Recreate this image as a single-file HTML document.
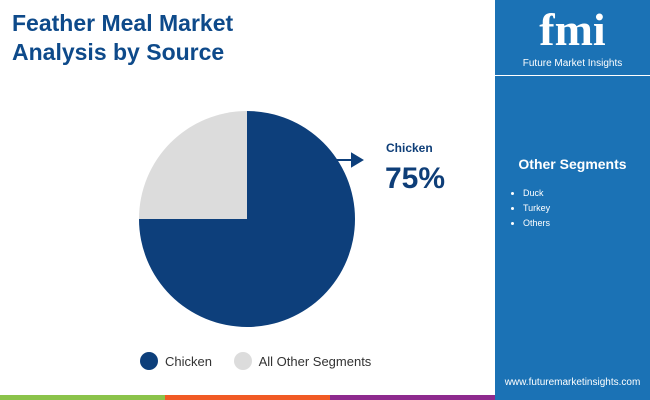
<!DOCTYPE html>
<html><head><meta charset="utf-8"><style>
body{margin:0;width:650px;height:400px;overflow:hidden;background:#fff;font-family:"Liberation Sans",sans-serif;position:relative}
.abs{position:absolute}
</style></head><body>
<div class="abs" style="left:12px;top:9px;font-size:23px;font-weight:bold;color:#0e4a8a;line-height:29px">Feather Meal Market<br>Analysis by Source</div>
<div class="abs" style="left:495px;top:0;width:155px;height:400px;background:#1b72b5">
  <div class="abs" style="left:0;width:155px;top:4px;text-align:center;color:#fff;font-size:46px;font-weight:bold;font-family:'Liberation Serif',serif;line-height:52px">fmi</div>
  <div class="abs" style="left:0;width:155px;top:58px;text-align:center;color:#fff;font-size:10px">Future Market Insights</div>
  <div class="abs" style="left:0;top:75px;width:155px;height:1px;background:#fff"></div>
  <div class="abs" style="left:0;width:155px;top:156px;text-align:center;color:#fff;font-size:14px;font-weight:bold">Other Segments</div>
  <ul class="abs" style="left:0;top:186px;margin:0;padding-left:28px;color:#fff;font-size:9px;line-height:15px">
    <li>Duck</li>
    <li>Turkey</li>
    <li>Others</li>
  </ul>
  <div class="abs" style="left:0;width:155px;top:377px;text-align:center;color:#fff;font-size:10px">www.futuremarketinsights.com</div>
</div>
<svg class="abs" style="left:0;top:0" width="495" height="400" id="pie"></svg>
<div class="abs" style="left:386px;top:141px;font-size:12px;font-weight:bold;color:#0e3e78">Chicken</div>
<div class="abs" style="left:385px;top:162px;font-size:30px;font-weight:bold;color:#0e3e78">75%</div>
<div class="abs" style="left:140px;top:352px;font-size:13px;color:#333">
  <span style="display:inline-flex;align-items:center"><span style="width:18px;height:18px;border-radius:50%;background:#0d3f7b;display:inline-block;margin-right:7px"></span>Chicken</span>
  <span style="display:inline-flex;align-items:center;margin-left:18px"><span style="width:18px;height:18px;border-radius:50%;background:#dcdcdc;display:inline-block;margin-right:7px"></span>All Other Segments</span>
</div>
<div class="abs" style="left:0;top:395px;width:165px;height:5px;background:#8bc34a"></div>
<div class="abs" style="left:165px;top:395px;width:165px;height:5px;background:#f15a24"></div>
<div class="abs" style="left:330px;top:395px;width:165px;height:5px;background:#8e2a8e"></div>
<script>
const categories=["Chicken","All Other Segments"];
const values=[75,25];
const colors=["#0d3f7b","#dcdcdc"];
const svg=document.getElementById('pie');
const cx=247,cy=219,r=108;
const total=values.reduce((a,b)=>a+b,0);
let a0=0;
values.forEach((v,i)=>{
  const a1=a0+v/total*2*Math.PI;
  const x0=cx+r*Math.sin(a0),y0=cy-r*Math.cos(a0),x1=cx+r*Math.sin(a1),y1=cy-r*Math.cos(a1);
  const p=document.createElementNS('http://www.w3.org/2000/svg','path');
  p.setAttribute('d',`M${cx},${cy}L${x0},${y0}A${r},${r} 0 ${a1-a0>Math.PI?1:0} 1 ${x1},${y1}Z`);
  p.setAttribute('fill',colors[i]);
  
  
  svg.appendChild(p);
  a0=a1;
});
const ar=document.createElementNS('http://www.w3.org/2000/svg','path');
ar.setAttribute('d','M336,160L356,160M352,154L362,160L352,166Z');
ar.setAttribute('stroke','#0d3f7b');ar.setAttribute('stroke-width','2');ar.setAttribute('fill','#0d3f7b');


svg.appendChild(ar);
</script>
</body></html>
